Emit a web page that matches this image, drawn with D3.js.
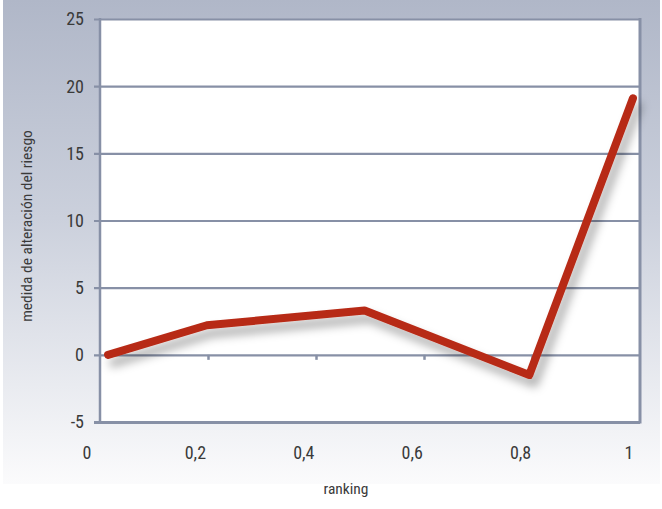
<!DOCTYPE html>
<html>
<head>
<meta charset="utf-8">
<script src="https://cdn.jsdelivr.net/npm/d3@7"></script>
<style>
  html, body { margin: 0; padding: 0; background: #ffffff; }
  svg { display: block; }
  text { font-family: "Liberation Sans Narrow", "Roboto Condensed", "Roboto", sans-serif; fill: #3a3a3a; }
</style>
</head>
<body>
<svg id="chart" width="662" height="509"></svg>
<script>
// Ranking positions and the corresponding change in risk measure
const ranking = [0.015, 0.198, 0.49, 0.795, 0.987];
const alteracion = [0, 2.2, 3.3, -1.5, 19.1];
const yTicks = [-5, 0, 5, 10, 15, 20, 25];
const xTickLabels = [0, 0.2, 0.4, 0.6, 0.8, 1];
const xInnerTicks = [0.2, 0.4, 0.6, 0.8];

const svg = d3.select("#chart");
const plot = { left: 100, right: 640, top: 19, bottom: 422 };
const axisColor = "#8790a6";

const x = d3.scaleLinear().domain([0, 1]).range([plot.left, plot.right]);
const xLabel = d3.scaleLinear().domain([0, 1]).range([87, 629]);
const y = d3.scaleLinear().domain([-5, 25]).range([plot.bottom, plot.top]);

const defs = svg.append("defs");
const bg = defs.append("linearGradient").attr("id", "bg").attr("x1", 0).attr("y1", 0).attr("x2", 0).attr("y2", 1);
bg.append("stop").attr("offset", "0%").attr("stop-color", "#b0b7c8");
bg.append("stop").attr("offset", "45%").attr("stop-color", "#cbd0dc");
bg.append("stop").attr("offset", "100%").attr("stop-color", "#fbfbfc");

const shadow = defs.append("filter").attr("id", "shadow")
  .attr("x", "-20%").attr("y", "-20%").attr("width", "140%").attr("height", "140%");
shadow.append("feDropShadow").attr("dx", 5).attr("dy", 8).attr("stdDeviation", 5)
  .attr("flood-color", "#000").attr("flood-opacity", 0.33);

// Panel background
svg.append("rect").attr("x", 3).attr("y", 0).attr("width", 657).attr("height", 484).attr("fill", "url(#bg)");

// Plot area
svg.append("rect")
  .attr("x", plot.left).attr("y", plot.top)
  .attr("width", plot.right - plot.left).attr("height", plot.bottom - plot.top)
  .attr("fill", "#ffffff");

// Horizontal gridlines with left tick marks
const yAxis = d3.axisLeft(y).tickValues(yTicks).tickSize(-(plot.right - plot.left)).tickFormat("");
const gy = svg.append("g").attr("transform", `translate(${plot.left},0)`).call(yAxis);
gy.select(".domain").remove();
gy.selectAll(".tick line").attr("stroke", axisColor).attr("stroke-width", 2.2).attr("x1", -6);
gy.selectAll(".tick").filter(d => d === -5).select("line").attr("stroke-width", 3);

// Left and right borders of the plot area
svg.append("line").attr("x1", plot.left).attr("x2", plot.left)
  .attr("y1", plot.top - 1).attr("y2", plot.bottom + 1.5)
  .attr("stroke", axisColor).attr("stroke-width", 2.5);
svg.append("line").attr("x1", plot.right).attr("x2", plot.right)
  .attr("y1", plot.top - 1).attr("y2", plot.bottom + 1.5)
  .attr("stroke", axisColor).attr("stroke-width", 3);

// Y tick labels
svg.append("g").selectAll("text").data(yTicks).join("text")
  .attr("x", 84).attr("y", d => y(d)).attr("dy", "0.36em")
  .attr("text-anchor", "end").attr("font-size", 18)
  .text(d => d);

// Small category ticks on the zero line
const xAxis = d3.axisBottom(x).tickValues(xInnerTicks).tickSize(5).tickFormat("");
const gx = svg.append("g").attr("transform", `translate(0,${y(0)})`).call(xAxis);
gx.select(".domain").remove();
gx.selectAll(".tick line").attr("stroke", axisColor).attr("stroke-width", 2.5);

// X tick labels
svg.append("g").selectAll("text").data(xTickLabels).join("text")
  .attr("x", d => xLabel(d)).attr("y", 459)
  .attr("text-anchor", "middle").attr("font-size", 18)
  .text(d => String(d).replace(".", ","));

// Axis titles
svg.append("text").attr("x", 346).attr("y", 494)
  .attr("text-anchor", "middle").attr("font-size", 15.5).text("ranking");
svg.append("text")
  .attr("transform", "translate(32,226) rotate(-90)")
  .attr("text-anchor", "middle").attr("font-size", 15.5)
  .text("medida de alteración del riesgo");

// Series line
const line = d3.line().x((d, i) => x(ranking[i])).y(d => y(d));
svg.append("path")
  .datum(alteracion)
  .attr("d", line)
  .attr("fill", "none")
  .attr("stroke", "#b72a16")
  .attr("stroke-width", 8)
  .attr("stroke-linejoin", "round")
  .attr("stroke-linecap", "round")
  .attr("filter", "url(#shadow)");
</script>
</body>
</html>
